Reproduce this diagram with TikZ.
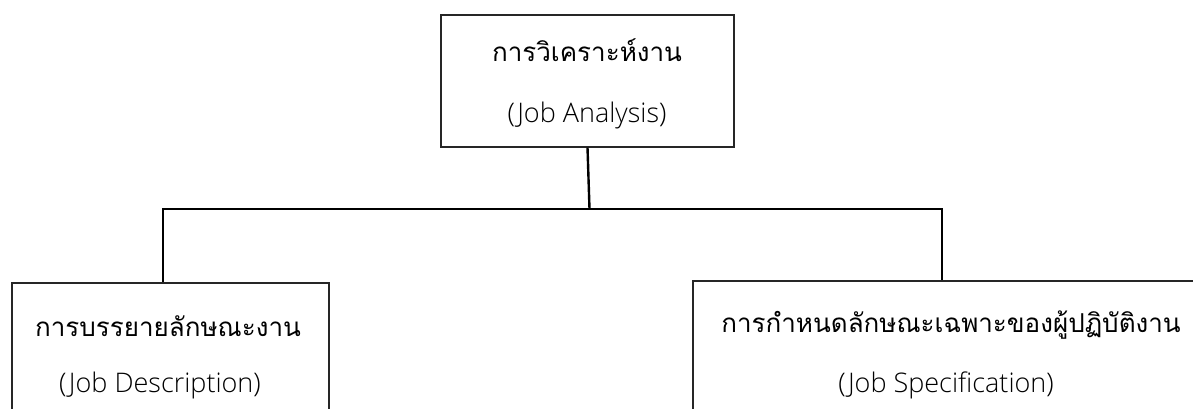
\documentclass[tikz,border=0pt]{standalone}
\usepackage{fontspec}
\setmainfont{Open Sans}[UprightFont=* Light]
\newfontfamily\thaifont[Script=Thai]{Loma}
\begin{document}
\begin{tikzpicture}[x=1pt,y=-1pt,
  boxst/.style={draw=black!85, line width=1.1pt, rectangle, inner sep=0pt},
  conn/.style={draw=black, line width=2.4pt},
  thaitxt/.style={anchor=base, inner sep=0pt, font=\thaifont\fontsize{26}{30}\selectfont},
  lattxt/.style={anchor=base, inner sep=0pt, font=\fontsize{27}{30}\selectfont}]
\useasboundingbox (0,0) rectangle (1193,409);
\clip (0,0) rectangle (1193,409);
\node[boxst, minimum width=293pt, minimum height=132pt] (top) at (587.5,81) {};
\node[boxst, minimum width=317pt, minimum height=200pt] (left) at (170.5,383) {};
\node[boxst, minimum width=504pt, minimum height=200pt] (right) at (945,381) {};
\node[thaitxt] (t1) at (587,62) {การวิเคราะห์งาน};
\node[lattxt] (t2) at (587,122) {(Job Analysis)};
\node[thaitxt] (l1) at (168,336) {การบรรยายลักษณะงาน};
\node[lattxt] (l2) at (160,392) {(Job Description)};
\node[thaitxt] (r1) at (951,332) {การกำหนดลักษณะเฉพาะของผู้ปฏิบัติงาน};
\node[lattxt] (r2) at (946,392) {(Job Specification)};
\coordinate (j) at (589.5,209);
\coordinate (jl) at (163,209);
\coordinate (jr) at (942,209);
\draw[conn] (top.south) -- (j);
\draw[conn, line cap=rect] (jl) -- (jr);
\draw[conn] (jl) -- (jl |- left.north);
\draw[conn] (jr) -- (jr |- right.north);
\end{tikzpicture}
\end{document}
